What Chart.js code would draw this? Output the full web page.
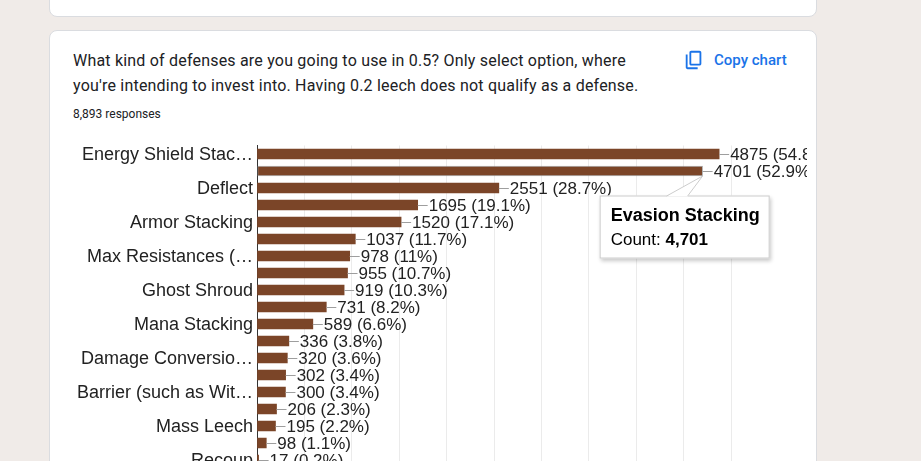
<!DOCTYPE html>
<html>
<head>
<meta charset="utf-8">
<script src="https://cdn.jsdelivr.net/npm/chart.js@4.4.1/dist/chart.umd.min.js"></script>
<style>
  html, body { margin: 0; padding: 0; }
  body { width: 921px; height: 461px; overflow: hidden; background: #f0ebe8; position: relative; font-family: Roboto, Arial, sans-serif; }
  .card { position: absolute; left: 49px; width: 766px; background: #fff; border: 1px solid #dadce0; border-radius: 8px; }
  #card1 { top: -40px; height: 55px; }
  #card2 { top: 30px; height: 500px; }
  #title { position: absolute; left: 73px; top: 48px; width: 585px; font-size: 16px; line-height: 25px; letter-spacing: 0.2px; color: #202124; }
  #resp { position: absolute; left: 73px; top: 106px; font-size: 12px; line-height: 16px; color: #202124; }
  #copy { position: absolute; left: 683px; top: 49px; display: flex; align-items: center; color: #1a73e8; font-size: 15px; font-weight: 500; }
  #copy svg { margin-right: 9px; }
  #chartBox { position: absolute; left: 49px; top: 130px; }
</style>
</head>
<body>
<div class="card" id="card1"></div>
<div class="card" id="card2"></div>
<div id="title">What kind of defenses are you going to use in 0.5? Only select option, where you're intending to invest into. Having 0.2 leech does not qualify as a defense.</div>
<div id="resp">8,893 responses</div>
<div id="copy">
  <svg width="22" height="22" viewBox="0 0 24 24"><path fill="#1a73e8" d="M18 2H9c-1.1 0-2 .9-2 2v12c0 1.1.9 2 2 2h9c1.1 0 2-.9 2-2V4c0-1.1-.9-2-2-2zm0 14H9V4h9v12zM3 6v14c0 1.1.9 2 2 2h11v-2H5V6H3z"/></svg>
  Copy chart
</div>
<div id="chartBox"><canvas id="bars" width="758" height="360"></canvas></div>
<script>
// data; hidden (every other) labels are unknown except the tooltip one
const totalResponses = 8893
const categories = ["Energy Shield Stac…", "Evasion Stacking", "Deflect", "", "Armor Stacking", "",
  "Max Resistances (…", "", "Ghost Shroud", "", "Mana Stacking", "", "Damage Conversio…", "",
  "Barrier (such as Wit…", "", "Mass Leech", "", "Recoup"]
const counts = [4875, 4701, 2551, 1695, 1520, 1037, 978, 955, 919, 731, 589, 336, 320, 302, 300, 206, 195, 98, 17]
const xMax = 5000
const xStep = 500
const activeIndex = 1

const labelFont = 'Arial, "Liberation Sans", sans-serif'

let pct = function(v) {
  return String(Math.round(v / totalResponses * 1000) / 10) + '%'
}

// stems + "1234 (12.3%)" annotations at bar ends
const valueLabels = {
  id: 'valueLabels',
  afterDatasetsDraw(chart) {
    const ctx = chart.ctx
    const meta = chart.getDatasetMeta(0)
    ctx.save()
    ctx.font = '17px ' + labelFont
    ctx.textBaseline = 'middle'
    meta.data.forEach(function(bar, i) {
      ctx.strokeStyle = '#9e9e9e'
      ctx.lineWidth = 1
      ctx.beginPath()
      ctx.moveTo(bar.x, Math.round(bar.y) + 0.5)
      ctx.lineTo(bar.x + 10, Math.round(bar.y) + 0.5)
      ctx.stroke()
      ctx.fillStyle = '#222'
      ctx.fillText(counts[i] + ' (' + pct(counts[i]) + ')', bar.x + 11, bar.y + 1.5)
    })
    ctx.restore()
  }
}

// google-style callout for the hovered bar
const callout = {
  id: 'callout',
  afterDraw(chart) {
    const ctx = chart.ctx
    const bar = chart.getDatasetMeta(0).data[activeIndex]
    const px = bar.x, py = bar.y
    const left = px - 103, top = py + 24.5, w = 170, h = 63
    ctx.save()
    ctx.shadowColor = 'rgba(0,0,0,0.22)'
    ctx.shadowBlur = 4
    ctx.shadowOffsetX = 1
    ctx.shadowOffsetY = 2
    ctx.fillStyle = '#fff'
    ctx.fillRect(left, top, w, h)
    ctx.shadowColor = 'transparent'
    ctx.strokeStyle = '#cccccc'
    ctx.lineWidth = 1
    ctx.strokeRect(left + 0.5, top + 0.5, w - 1, h - 1)
    // wedge
    ctx.beginPath()
    ctx.moveTo(px - 36, top + 1)
    ctx.lineTo(px, py + 5)
    ctx.lineTo(px - 15, top + 1)
    ctx.closePath()
    ctx.fillStyle = '#fff'
    ctx.fill()
    ctx.beginPath()
    ctx.moveTo(px - 36, top + 0.5)
    ctx.lineTo(px, py + 5)
    ctx.lineTo(px - 15, top + 0.5)
    ctx.stroke()

    ctx.fillStyle = '#000'
    ctx.textBaseline = 'middle'
    ctx.font = 'bold 18px ' + labelFont
    ctx.fillText(categories[activeIndex], left + 11, top + 20.5)
    ctx.font = '17px ' + labelFont
    const pre = 'Count: '
    ctx.fillText(pre, left + 11, top + 45)
    const preW = ctx.measureText(pre).width
    ctx.font = 'bold 17px ' + labelFont
    ctx.fillText(counts[activeIndex].toLocaleString('en-US'), left + 11 + preW, top + 45)
    ctx.restore()
  }
}

const ctx = document.getElementById('bars').getContext('2d')

let barChart = new Chart(ctx, {
  type: 'bar',
  data: {
    labels: categories,
    datasets: [{
      data: counts,
      backgroundColor: '#7b4528',
      borderColor: counts.map((c, i) => i === activeIndex ? 'rgba(120,120,120,0.55)' : 'rgba(0,0,0,0)'),
      borderWidth: counts.map((c, i) => i === activeIndex ? 1 : 0),
      borderSkipped: false,
      barThickness: 10
    }]
  },
  options: {
    indexAxis: 'y',
    responsive: false,
    animation: false,
    layout: { padding: { top: 15.5, bottom: 21.5, left: 0, right: 76 } },
    plugins: { legend: { display: false }, tooltip: { enabled: false } },
    scales: {
      x: {
        min: 0,
        max: xMax,
        ticks: { display: false, stepSize: xStep },
        grid: { color: '#ebebeb', drawTicks: false },
        border: { display: false },
        afterFit: function(scale) { scale.height = 0 }
      },
      y: {
        ticks: {
          autoSkip: false,
          padding: 4,
          labelOffset: 1.5,
          color: '#222',
          font: { size: 18, family: labelFont },
          callback: function(v, i) { return i % 2 ? '' : categories[i] }
        },
        grid: { display: false, drawTicks: false },
        border: { display: true, color: '#333', width: 1 },
        afterFit: function(scale) { scale.width = 208 }
      }
    }
  },
  plugins: [valueLabels, callout]
})
</script>
</body>
</html>
